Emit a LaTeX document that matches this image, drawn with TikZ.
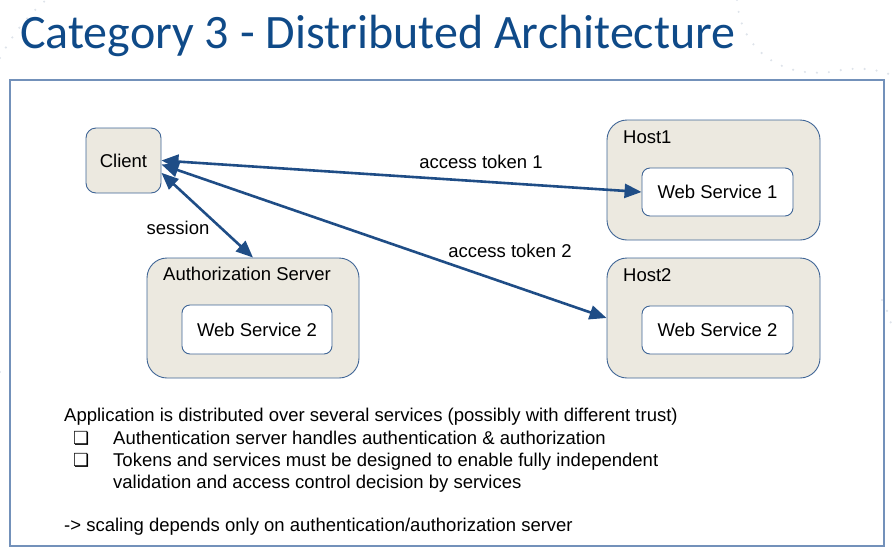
\documentclass[tikz,border=0pt]{standalone}
\usepackage{fontspec}
\setmainfont{Liberation Sans}
\newfontfamily\titlefont{Carlito}
\newfontfamily\symfont{DejaVu Sans}
\usetikzlibrary{arrows.meta}

\definecolor{titleblue}{HTML}{0F4A88}
\definecolor{framecol}{HTML}{7391BA}
\definecolor{boxborder}{HTML}{3F6596}
\definecolor{boxfill}{HTML}{ECE9E0}
\definecolor{arrowblue}{HTML}{1F4D86}
\definecolor{dotcol}{HTML}{DEE3EA}

\tikzset{
  every node/.style={font=\fontsize{18.5}{22}\selectfont, text=black},
  greybox/.style={draw=boxborder, line width=0.9pt, fill=boxfill, inner sep=0pt},
  whitebox/.style={draw=boxborder, line width=0.9pt, fill=white, inner sep=0pt,
    rounded corners=8pt, minimum width=151pt, minimum height=48pt},
  link/.style={draw=arrowblue, line width=2.6pt,
    {Triangle[length=17pt,width=14pt]}-{Triangle[length=17pt,width=14pt]}},
  bodytext/.style={anchor=base west, inner sep=0pt},
  bullet/.style={anchor=base west, inner sep=0pt, font=\fontsize{18}{22}\symfont\bfseries},
  bgdots/.style={draw=dotcol, line width=2.4pt, line cap=round, dash pattern=on 0pt off 12pt}
}

\begin{document}
\begin{tikzpicture}[x=1pt, y=-1pt]
  \useasboundingbox (0,0) rectangle (894,557);

  % faint dotted arcs in the backdrop
  \draw[bgdots] (0,58) .. controls (12,35) and (28,15) .. (46,0);
  \draw[bgdots] (737,0) .. controls (740,45) and (775,78) .. (830,72) .. controls (850,68) and (870,66) .. (894,76);
  \draw[bgdots] (882,300) .. controls (888,310) and (890,322) .. (894,332);
  \draw[bgdots] (0,372) -- (6,378);

  % title
  \node[anchor=base west, inner sep=0pt, font=\fontsize{48}{56}\titlefont, text=titleblue]
    (title) at (20,48) {Category 3 - Distributed Architecture};

  % slide frame
  \draw[draw=framecol, line width=1.1pt] (10,80) rectangle (884,546);

  % components
  \node[greybox, rounded corners=10pt, minimum width=75pt, minimum height=65pt]
    (client) at (123.5,160.5) {Client};

  \node[greybox, rounded corners=20pt, minimum width=213pt, minimum height=120pt]
    (host1) at (713.5,180) {};
  \node[bodytext] (host1lbl) at (623,143) {Host1};
  \node[whitebox] (ws1) at (717.5,192) {Web Service 1};

  \node[greybox, rounded corners=20pt, minimum width=213pt, minimum height=120pt]
    (host2) at (713.5,318) {};
  \node[bodytext] (host2lbl) at (623,281) {Host2};
  \node[whitebox] (ws2) at (717.5,330) {Web Service 2};

  \node[greybox, rounded corners=20pt, minimum width=212pt, minimum height=120pt]
    (auth) at (253,318) {};
  \node[anchor=base, inner sep=0pt] (authlbl) at (247,280) {Authorization Server};
  \node[whitebox, minimum width=150pt, minimum height=49pt] (wsa) at (257,329.5) {Web Service 2};

  % connectors
  \draw[link] (client.east) -- (ws1.west);
  \draw[link] (client.-6) -- (host2.west);
  \draw[link] (client.-18) -- (auth.north);

  % connector labels
  \node (tok1) at (481,162) {access token 1};
  \node (tok2) at (510,251) {access token 2};
  \node (sess) at (178,228) {session};

  % description
  \node[bodytext] (l1) at (64,421)
    {Application is distributed over several services (possibly with different trust)};
  \node[bullet] (b1) at (73,444) {❏};
  \node[bullet] (b2) at (73,466) {❏};
  \node[bodytext] (l2) at (113,444)
    {Authentication server handles authentication \& authorization};
  \node[bodytext] (l3) at (113,466)
    {Tokens and services must be designed to enable fully independent};
  \node[bodytext] (l4) at (113,488)
    {validation and access control decision by services};
  \node[bodytext] (l5) at (64,531)
    {-> scaling depends only on authentication/authorization server};
\end{tikzpicture}
\end{document}
